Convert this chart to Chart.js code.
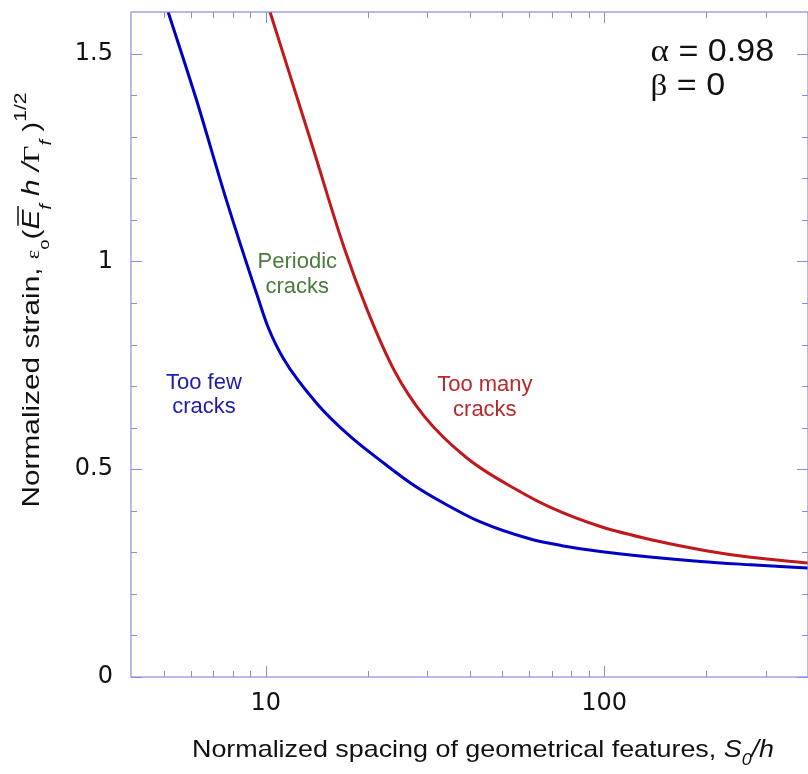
<!DOCTYPE html>
<html>
<head>
<meta charset="utf-8">
<script src="https://cdn.jsdelivr.net/npm/chart.js@4.4.0/dist/chart.umd.min.js"></script>
<style>
  body { margin: 0; background: #fff; }
  #wrap { width: 808px; height: 774px; }
</style>
</head>
<body>
<div id="wrap"><canvas id="crackChart" width="808" height="774"></canvas></div>
<script>
// ---------- data ----------
var fewX = [5.15, 6.22, 7.63, 9.51, 10.16, 11.3, 14.2, 17.7, 22.3, 27.1, 32.8, 43.1, 60.5, 75, 97.5, 193, 271, 400];
var fewY = [1.60, 1.393, 1.151, 0.910, 0.842, 0.765, 0.657, 0.580, 0.515, 0.464, 0.423, 0.373, 0.332, 0.316, 0.302, 0.278, 0.270, 0.262];

var manyX = [10.3, 13.8, 17, 20, 24, 29.3, 39.3, 55, 69.4, 97.5, 140, 200, 271, 400];
var manyY = [1.60, 1.272, 1.036, 0.881, 0.737, 0.629, 0.527, 0.451, 0.408, 0.362, 0.329, 0.304, 0.288, 0.274];

var xLabelTicks = [10, 100];
var xMinorTicks = [5, 6, 7, 8, 9, 20, 30, 40, 50, 60, 70, 80, 90, 200, 300];
var yLabelTicks = [0, 0.5, 1, 1.5];
var yMinorTicks = [0.1, 0.2, 0.3, 0.4, 0.6, 0.7, 0.8, 0.9, 1.1, 1.2, 1.3, 1.4];

var SANS = '"Liberation Sans", Arial, sans-serif';
var SERIF = '"Liberation Serif", "Times New Roman", serif';
var AXIS_COLOR = '#8c8cd6';

function toPoints(xs, ys) {
  return xs.map(function (x, i) { return { x: x, y: ys[i] }; });
}

// draw a row of text pieces (sub/superscripts, italics) one after the other.
// "width" stretches the row sideways to that length (the original font runs wide)
function drawRuns(ctx, runs, x, y, align, width, stretch) {
  var total = 0;
  runs.forEach(function (r) {
    ctx.font = r.font;
    r.w = ctx.measureText(r.text).width;
    total += r.w;
  });
  var sx = width ? width / total : (stretch || 1);
  ctx.save();
  ctx.translate(x, y);
  ctx.scale(sx, 1);
  var cx = align === 'center' ? -total / 2 : 0;
  runs.forEach(function (r) {
    ctx.font = r.font;
    ctx.fillStyle = r.color || '#111';
    ctx.textBaseline = 'alphabetic';
    ctx.textAlign = 'left';
    ctx.fillText(r.text, cx, r.dy || 0);
    if (r.bar) {
      ctx.strokeStyle = r.color || '#111';
      ctx.lineWidth = 1.5;
      ctx.beginPath();
      ctx.moveTo(cx + 3, -21);
      ctx.lineTo(cx + r.w + 3, -21);
      ctx.stroke();
    }
    cx += r.w;
  });
  ctx.restore();
}

// annotations, anchored in data coordinates
var notes = [
  { lines: ['Periodic', 'cracks'], x: 12.4, y: 0.984, color: '#4a7a3c' },
  { lines: ['Too few', 'cracks'], x: 6.57, y: 0.694, color: '#1c1cab' },
  { lines: ['Too many', 'cracks'], x: 44.4, y: 0.688, color: '#b52a2a' }
];

var framePlugin = {
  id: 'framePlugin',
  afterDraw: function (chart) {
    var ctx = chart.ctx;
    var a = chart.chartArea;
    var xs = chart.scales.x, ys = chart.scales.y;
    ctx.save();

    // frame
    ctx.strokeStyle = AXIS_COLOR;
    ctx.lineWidth = 1.2;
    ctx.strokeRect(a.left, a.top, a.right - a.left, a.bottom - a.top);

    // inward ticks on all four sides
    function xTick(v, len) {
      var px = Math.round(xs.getPixelForValue(v)) + 0.5;
      ctx.beginPath();
      ctx.moveTo(px, a.bottom); ctx.lineTo(px, a.bottom - len);
      ctx.moveTo(px, a.top); ctx.lineTo(px, a.top + len);
      ctx.stroke();
    }
    function yTick(v, len) {
      var py = Math.round(ys.getPixelForValue(v)) + 0.5;
      ctx.beginPath();
      ctx.moveTo(a.left, py); ctx.lineTo(a.left + len, py);
      ctx.moveTo(a.right, py); ctx.lineTo(a.right - len, py);
      ctx.stroke();
    }
    ctx.lineWidth = 1;
    xLabelTicks.forEach(function (v) { xTick(v, 11); });
    xMinorTicks.forEach(function (v) { xTick(v, 6); });
    yLabelTicks.forEach(function (v) { yTick(v, 11); });
    yMinorTicks.forEach(function (v) { yTick(v, 6); });

    // region labels
    ctx.font = '22px ' + SANS;
    ctx.textAlign = 'center';
    ctx.textBaseline = 'alphabetic';
    notes.forEach(function (n) {
      var px = xs.getPixelForValue(n.x);
      var py = ys.getPixelForValue(n.y);
      ctx.fillStyle = n.color;
      n.lines.forEach(function (t, i) { ctx.fillText(t, px, py + i * 24.5); });
    });

    // parameter box
    var px0 = xs.getPixelForValue(137);
    drawRuns(ctx, [
      { text: '\u03b1', font: '32px ' + SERIF },
      { text: ' = 0.98', font: '31px ' + SANS }
    ], px0, ys.getPixelForValue(1.482), 'left', 0, 1.1);
    drawRuns(ctx, [
      { text: '\u03b2', font: '30px ' + SERIF },
      { text: ' = 0', font: '31px ' + SANS }
    ], px0, ys.getPixelForValue(1.401), 'left', 0, 1.1);

    // x axis title
    drawRuns(ctx, [
      { text: 'Normalized spacing of geometrical features, ', font: '24px ' + SANS },
      { text: 'S', font: 'italic 24px ' + SANS },
      { text: '0', font: 'italic 16px ' + SANS, dy: 8 },
      { text: '/h', font: 'italic 24px ' + SANS }
    ], 483, 757, 'center', 582);

    // y axis title, rotated
    ctx.translate(39, 300);
    ctx.rotate(-Math.PI / 2);
    drawRuns(ctx, [
      { text: 'Normalized strain, ', font: '24px ' + SANS },
      { text: '\u03b5', font: '18px ' + SERIF, dy: 0 },
      { text: 'o', font: '15px ' + SANS, dy: 10 },
      { text: '(', font: '24px ' + SANS },
      { text: 'E', font: 'italic 24px ' + SANS, bar: true },
      { text: 'f', font: 'italic 16px ' + SANS, dy: 12 },
      { text: ' h', font: 'italic 24px ' + SANS },
      { text: ' /', font: 'italic 24px ' + SANS },
      { text: '\u0393', font: '24px ' + SERIF },
      { text: 'f', font: 'italic 16px ' + SANS, dy: 12 },
      { text: ' )', font: '24px ' + SANS },
      { text: '1/2', font: '17px ' + SANS, dy: -13 }
    ], 0, 0, 'center', 415);

    ctx.restore();
  }
};

var ctx = document.getElementById('crackChart').getContext('2d');
var crackChart = new Chart(ctx, {
  type: 'scatter',
  data: {
    datasets: [{
      label: 'Too few cracks',
      data: toPoints(fewX, fewY),
      showLine: true,
      borderColor: '#0000c4',
      borderWidth: 3,
      pointRadius: 0,
      cubicInterpolationMode: 'monotone'
    }, {
      label: 'Too many cracks',
      data: toPoints(manyX, manyY),
      showLine: true,
      borderColor: '#c0181c',
      borderWidth: 3,
      pointRadius: 0,
      cubicInterpolationMode: 'monotone'
    }]
  },
  options: {
    responsive: false,
    animation: false,
    layout: { padding: { top: 12, right: 0, left: 0, bottom: 0 } },
    plugins: {
      legend: { display: false },
      tooltip: { enabled: false }
    },
    scales: {
      x: {
        type: 'logarithmic',
        min: 4,
        max: 400,
        grid: { display: false, drawTicks: false },
        border: { display: false },
        afterBuildTicks: function (s) { s.ticks = xLabelTicks.map(function (v) { return { value: v }; }); },
        afterFit: function (s) { s.height = 97; s.paddingLeft = 0; s.paddingRight = 0; },
        ticks: {
          autoSkip: false,
          maxRotation: 0,
          padding: 12,
          color: '#111',
          font: { size: 24, family: '"DejaVu Sans", sans-serif' },
          callback: function (v) { return String(v); }
        }
      },
      y: {
        type: 'linear',
        min: 0,
        max: 1.6,
        grid: { display: false, drawTicks: false },
        border: { display: false },
        afterBuildTicks: function (s) { s.ticks = yLabelTicks.map(function (v) { return { value: v }; }); },
        afterFit: function (s) { s.width = 131; s.paddingTop = 0; s.paddingBottom = 0; },
        ticks: {
          padding: 18,
          color: '#111',
          font: { size: 24, family: '"DejaVu Sans", sans-serif' },
          callback: function (v) { return String(v); }
        }
      }
    }
  },
  plugins: [framePlugin]
});
</script>
</body>
</html>
